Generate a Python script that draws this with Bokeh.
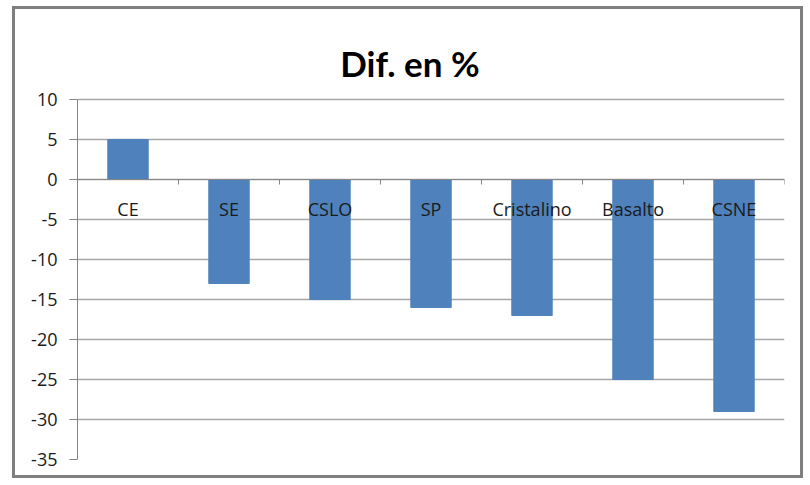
from bokeh.plotting import figure
from bokeh.models import LinearAxis, FixedTicker, Range1d, Label
from bokeh.embed import file_html
from bokeh.resources import INLINE

# values
categories = ["CE", "SE", "CSLO", "SP", "Cristalino", "Basalto", "CSNE"]
dif_pct = [5, -13, -15, -16, -17, -25, -29]
y_ticks = [-35, -30, -25, -20, -15, -10, -5, 0, 5, 10]
chart_title = "Dif. en %"

TITLE_FONT = "Lato"
FONT = "Open Sans"
BAR = "#4F81BD"
GRID = "#A6A6A6"
AXIS = "#868686"
TXT = "#1A1A1A"

n = len(categories)
xs = list(range(n))
y_lo, y_hi = min(y_ticks), max(y_ticks)

# headroom above the last tick keeps the title inside the plot area
p = figure(width=791, height=472, output_backend="svg", toolbar_location=None,
           x_range=Range1d(-0.5, n - 0.5), y_range=Range1d(y_lo, y_hi + 10),
           x_axis_location=None, y_axis_location=None,
           min_border_left=62, min_border_right=22, min_border_top=10, min_border_bottom=22)
# grey frame round the whole chart
p.styles = {"border": "3px solid #7F7F7F", "margin-left": "12px", "margin-top": "6px"}
p.outline_line_color = None
p.background_fill_color = "white"
p.border_fill_color = "white"

p.add_layout(Label(x=(n - 1) / 2, y=y_hi, x_offset=-21, y_offset=37, text=chart_title,
                   text_align="center", text_baseline="alphabetic",
                   text_font=TITLE_FONT, text_font_size="35px", text_font_style="bold",
                   text_color="black"))

p.xgrid.visible = False
p.ygrid.ticker = FixedTicker(ticks=y_ticks)
p.ygrid.grid_line_color = GRID
p.ygrid.grid_line_width = 1.3

p.vbar(x=xs, top=dif_pct, bottom=0, width=0.4, fill_color=BAR, line_color=BAR)

yax = LinearAxis(ticker=FixedTicker(ticks=y_ticks), bounds=(y_lo, y_hi),
                 major_label_overrides={t: str(t) for t in y_ticks})
yax.axis_line_color = AXIS
yax.major_tick_line_color = AXIS
yax.major_tick_out = 8
yax.major_tick_in = 0
yax.minor_tick_line_color = None
yax.major_label_standoff = 12
yax.major_label_text_font = FONT
yax.major_label_text_font_size = "18px"
yax.major_label_text_color = TXT
p.add_layout(yax, "left")

# x axis through zero: ticks on category boundaries
bounds = [i - 0.5 for i in range(n + 1)]
tax = LinearAxis(ticker=FixedTicker(ticks=bounds), fixed_location=0)
tax.axis_line_color = AXIS
tax.major_tick_line_color = AXIS
tax.major_tick_out = 5
tax.major_tick_in = 0
tax.minor_tick_line_color = None
tax.major_label_text_color = None
p.add_layout(tax, "below")

# category labels under the zero line
lax = LinearAxis(ticker=FixedTicker(ticks=xs), fixed_location=0,
                 major_label_overrides={i: c for i, c in zip(xs, categories)})
lax.axis_line_color = None
lax.major_tick_line_color = None
lax.major_tick_out = 0
lax.minor_tick_line_color = None
lax.major_label_standoff = 17
lax.major_label_text_font = FONT
lax.major_label_text_font_size = "18px"
lax.major_label_text_color = TXT
p.add_layout(lax, "below")

open("out.html", "w").write(file_html(p, INLINE))
